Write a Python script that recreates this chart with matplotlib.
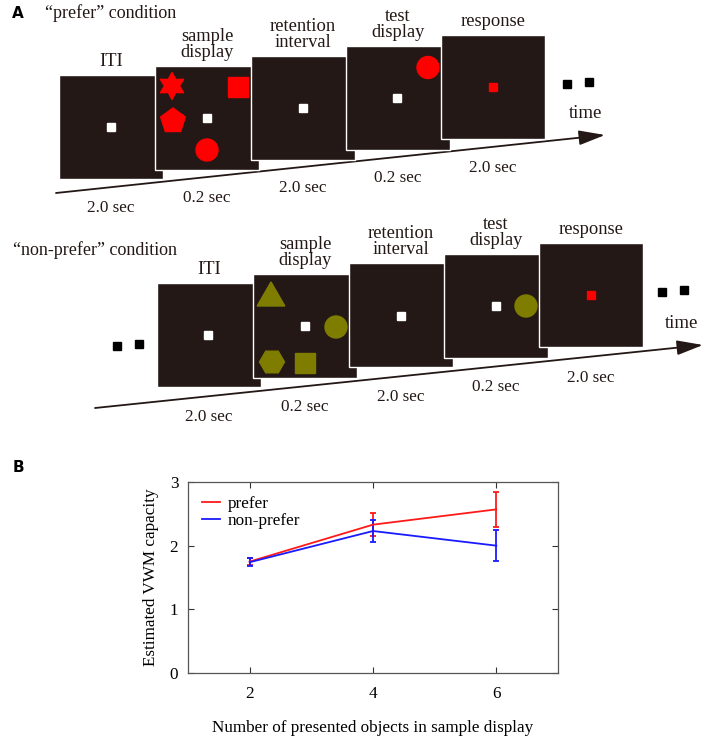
import numpy as np
import matplotlib
matplotlib.use("Agg")
import matplotlib.pyplot as plt
from matplotlib.patches import Rectangle, Circle, RegularPolygon, Polygon
from matplotlib.lines import Line2D

plt.rcParams['font.family'] = ['Liberation Serif', 'DejaVu Serif']

# ---- panel B data ----
n_objects = [2, 4, 6]
prefer_mean = [1.75, 2.33, 2.57]
prefer_err = [0.06, 0.18, 0.27]
nonprefer_mean = [1.74, 2.23, 2.00]
nonprefer_err = [0.06, 0.18, 0.24]

# ---- panel A content ----
stage_labels = ["ITI", "sample\ndisplay", "retention\ninterval", "test\ndisplay", "response"]
stage_durations = ["2.0 sec", "0.2 sec", "2.0 sec", "0.2 sec", "2.0 sec"]
conditions = ["\u201cprefer\u201d condition", "\u201cnon-prefer\u201d condition"]

SCREEN = "#231815"
RED = "#ff0000"
OLIVE = "#7f7d00"
S = 104  # screen size in px

fig = plt.figure(figsize=(7.08, 7.36), dpi=100)
ax = fig.add_axes([0, 0, 1, 1])
ax.set_xlim(0, 708)
ax.set_ylim(736, 0)
ax.axis("off")


def fixation(x, y, c="white", s=8):
    ax.add_patch(Rectangle((x - s / 2, y - s / 2), s, s, color=c, zorder=5))


def star(x, y, r_out=13.5, r_in=7.5, c=RED):
    ang = np.arange(12) * np.pi / 6 - np.pi / 2
    r = np.where(np.arange(12) % 2 == 0, r_out, r_in)
    ax.add_patch(Polygon(np.c_[x + r * np.cos(ang), y + r * np.sin(ang)],
                         closed=True, color=c, zorder=5))


def timeline(origins, arrow, cond_pos, cond, dots, time_pos):
    (x0, y0), (x1, y1) = arrow
    slope = (y1 - y0) / (x1 - x0)
    ax.annotate("", xy=(x1, y1), xytext=(x0, y0),
                arrowprops=dict(arrowstyle="-|>,head_length=1.6,head_width=0.45",
                                color="#231815", lw=1.3, shrinkA=0, shrinkB=0),
                zorder=1)
    for (sx, sy), lab, dur in zip(origins, stage_labels, stage_durations):
        ax.add_patch(Rectangle((sx, sy), S, S, facecolor=SCREEN, edgecolor="white",
                               lw=1.0, zorder=2))
        cx = sx + S / 2
        ax.text(cx, sy - 5, lab, ha="center", va="bottom", fontsize=13.3,
                linespacing=0.92, color="#231815")
        ly = y0 + slope * (cx - x0)
        ax.text(cx, ly + 21, dur, ha="center", va="center", fontsize=12.3,
                color="#231815")
    ax.text(cond_pos[0], cond_pos[1], cond, ha="left", va="center", fontsize=13,
            color="#231815")
    for (dx, dy) in dots:
        fixation(dx, dy, c="black", s=8)
    ax.text(time_pos[0], time_pos[1], "time", ha="center", va="center",
            fontsize=13.5, color="#231815")


# "prefer" row
top = [(59, 75), (155, 66), (251, 56), (346, 46), (441, 35)]
timeline(top, ((56, 193), (605, 135)), (45, 13), conditions[0],
         [(567, 84), (589, 82)], (586, 114))
fixation(111, 127)
star(172, 86)
ax.add_patch(Rectangle((228, 77), 19.5, 19.5, color=RED, zorder=5))
ax.add_patch(RegularPolygon((173, 121), 5, radius=13, orientation=np.pi, color=RED, zorder=5))
fixation(207, 118)
ax.add_patch(Circle((207, 150), 11, color=RED, zorder=5))
fixation(303, 108)
ax.add_patch(Circle((428, 67.5), 11, color=RED, zorder=5))
fixation(397, 98)
fixation(493, 87, c=RED)

# "non-prefer" row
bot = [(157, 283), (253, 274), (349, 263), (444, 254), (539, 243)]
timeline(bot, ((95, 408), (703, 345)), (13, 250), conditions[1],
         [(117, 346), (139, 344), (662, 292), (684, 290)], (682, 324))
fixation(208, 335)
ax.add_patch(RegularPolygon((271, 298), 3, radius=16, orientation=np.pi, color=OLIVE, zorder=5))
ax.add_patch(Circle((336, 327), 11, color=OLIVE, zorder=5))
fixation(305, 326)
ax.add_patch(RegularPolygon((272, 362), 6, radius=12.5, orientation=np.pi / 6, color=OLIVE, zorder=5))
ax.add_patch(Rectangle((295, 353), 20, 20, color=OLIVE, zorder=5))
fixation(401, 316)
fixation(496, 306)
ax.add_patch(Circle((526, 306), 11, color=OLIVE, zorder=5))
fixation(591, 295, c=RED)

ax.text(18, 13, "A", fontsize=11, fontweight="bold", family="DejaVu Sans",
        ha="center", va="center")
ax.text(18, 467, "B", fontsize=11, fontweight="bold", family="DejaVu Sans",
        ha="center", va="center")

# ---- panel B ----
axb = fig.add_axes([188 / 708, 1 - 673 / 736, 370 / 708, 191 / 736])
axb.errorbar(n_objects, prefer_mean, yerr=prefer_err, color="#ff1a1a", lw=1.3,
             capsize=2.5, elinewidth=1.3, capthick=1.3)
axb.errorbar(n_objects, nonprefer_mean, yerr=nonprefer_err, color="#1a1aff", lw=1.3,
             capsize=2.5, elinewidth=1.3, capthick=1.3)
axb.set_xlim(1, 7)
axb.set_ylim(0, 3)
axb.set_xticks(n_objects)
axb.set_yticks([0, 1, 2, 3])
axb.tick_params(direction="in", top=True, right=True, length=4, width=0.8,
                labelsize=12.3, color="#333333")
axb.tick_params(axis="x", pad=9)
axb.tick_params(axis="y", pad=7)
for sp in axb.spines.values():
    sp.set_color("#555555")
    sp.set_linewidth(0.9)
axb.set_xlabel("Number of presented objects in sample display", fontsize=12.3, labelpad=13)
axb.set_ylabel("Estimated VWM capacity", fontsize=12.3, labelpad=8)
handles = [Line2D([], [], color="#ff1a1a", lw=1.3), Line2D([], [], color="#1a1aff", lw=1.3)]
axb.legend(handles, ["prefer", "non-prefer"], loc="upper left", frameon=False,
           fontsize=12.3, handlelength=1.1, handletextpad=0.4, labelspacing=0.1,
           borderaxespad=0.4)

fig.savefig("out.png", dpi=100)
